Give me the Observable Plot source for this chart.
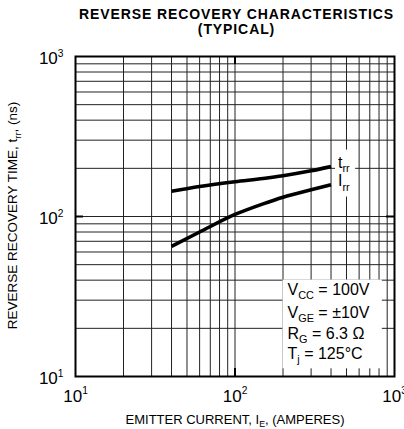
<!DOCTYPE html>
<html><head><meta charset="utf-8">
<script src="https://cdn.jsdelivr.net/npm/d3@7"></script>
<script src="https://cdn.jsdelivr.net/npm/@observablehq/plot@0.6"></script>
<style>body{margin:0;background:#fff} .title text{letter-spacing:0.9px}</style>
</head><body><div id="chart"></div>
<script>
// ---- data ----
const current = [40, 60, 100, 150, 200, 300, 400];          // I_E (A)
const trr = [144, 154, 165, 173, 180, 193, 205];             // t_rr (ns)
const irr = [65, 80, 103, 120, 132, 147, 158];               // I_rr curve
const seriesKeys = ["trr", "irr"];
const seriesLabels = ["t_{rr}", "I_{rr}"];
const xTicks = [10, 100, 1000];
const yTicks = [10, 100, 1000];
const minorSteps = [1, 2, 3, 4, 5, 6, 7, 8, 9];
const decades = [10, 100];
const conditions = ["V_{CC} = 100V", "V_{GE} = ±10V", "R_{G} = 6.3 Ω", "T_{j} = 125°C"];
const titleLines = ["REVERSE RECOVERY CHARACTERISTICS", "(TYPICAL)"];
const xLabel = "EMITTER CURRENT, I_{E}, (AMPERES)";
const yLabel = "REVERSE RECOVERY TIME, t_{rr}, (ns)";

// ---- build table ----
const seriesValues = {trr, irr};
const rows = seriesKeys.flatMap((k, j) => current.map((c, i) => ({series: k, label: seriesLabels[j], x: c, y: seriesValues[k][i]})));
const grid = decades.flatMap(d => minorSteps.map(s => d * s)).filter(v => v > 10 && v < 1000);
const fmt = d => `10^{${Math.round(Math.log10(d))}}`;

const condDy = [-82, -59, -38, -18];

const plot = Plot.plot({
  width: 404, height: 429,
  marginLeft: 75, marginRight: 10, marginTop: 56, marginBottom: 53,
  style: {fontFamily: "'Liberation Sans', Arial, sans-serif", fontSize: "12px", background: "#fff", color: "#000"},
  x: {type: "log", domain: [10, 1000]},
  y: {type: "log", domain: [10, 1000]},
  marks: [
    Plot.ruleX(grid, {stroke: "#222", strokeWidth: 1}),
    Plot.ruleY(grid, {stroke: "#222", strokeWidth: 1}),
    // short heavy ticks at the 10^2 decade inside the frame
    Plot.ruleX([100], {stroke: "#000", strokeWidth: 2, insetBottom: 312}),
    Plot.ruleX([100], {stroke: "#000", strokeWidth: 2, insetTop: 312}),
    Plot.ruleY([100], {stroke: "#000", strokeWidth: 2, insetRight: 311}),
    Plot.ruleY([100], {stroke: "#000", strokeWidth: 2, insetLeft: 311}),
    Plot.frame({stroke: "#000", strokeWidth: 2}),
    Plot.line(rows, {x: "x", y: "y", z: "series", stroke: "#000", strokeWidth: 3.6, curve: "monotone-x", strokeLinecap: "butt"}),
    Plot.text(rows, Plot.selectLast({x: "x", y: "y", z: "series", text: "label", textAnchor: "start", lineAnchor: "bottom", dx: 7, dy: 1, fontSize: 16, fill: "#000", className: "boxb"})),
    ...conditions.map((c, i) => Plot.text([c], {frameAnchor: "bottom-right", text: d => d, textAnchor: "start", lineAnchor: "bottom", dx: -107, dy: condDy[i], fontSize: 16, fill: "#000", className: "boxa"})),
    Plot.axisX({ticks: xTicks, tickFormat: fmt, tickSize: 0, tickPadding: 13, fontSize: 17, label: null}),
    Plot.axisY({ticks: yTicks, tickFormat: fmt, tickSize: 0, tickPadding: 12, fontSize: 17, label: null, dy: 2}),
    Plot.text([xLabel], {frameAnchor: "bottom", text: d => d, textAnchor: "middle", lineAnchor: "bottom", dy: 47, fontSize: 13, fill: "#000"}),
    Plot.text([yLabel], {frameAnchor: "left", text: d => d, rotate: -90, textAnchor: "middle", lineAnchor: "bottom", dx: -58.5, dy: -1, fontSize: 13.5, fill: "#000"}),
    Plot.text([titleLines[0]], {frameAnchor: "top", text: d => d, textAnchor: "middle", lineAnchor: "bottom", dx: 1.5, dy: -38, fontSize: 14, fontWeight: "bold", fill: "#000", className: "title"}),
    Plot.text([titleLines[1]], {frameAnchor: "top", text: d => d, textAnchor: "middle", lineAnchor: "bottom", dx: 1.5, dy: -23, fontSize: 14, fontWeight: "bold", fill: "#000", className: "title"})
  ]
});
document.getElementById("chart").appendChild(plot);

// ---- sub/superscript markup -> tspans ----
const NS = "http://www.w3.org/2000/svg";
plot.querySelectorAll("text").forEach(t => {
  const s = t.textContent;
  if (!/[_^]\{/.test(s)) return;
  const fs = parseFloat(getComputedStyle(t).fontSize);
  while (t.firstChild) t.removeChild(t.firstChild);
  let off = 0;
  for (const p of s.split(/([_^]\{[^}]*\})/).filter(p => p)) {
    const m = p.match(/^([_^])\{([^}]*)\}$/);
    const ts = document.createElementNS(NS, "tspan");
    let target = 0;
    if (m) {
      const sup = m[1] === "^";
      target = sup ? -0.42 * fs : 0.3 * fs;
      ts.setAttribute("font-size", ((sup ? 0.6 : 0.68) * fs) + "px");
      ts.textContent = m[2];
    } else ts.textContent = p;
    if (target !== off) { ts.setAttribute("dy", target - off); off = target; }
    t.appendChild(ts);
  }
});

// ---- white boxes behind annotation groups ----
function boxBehind(cls, pad) {
  const gs = [...plot.querySelectorAll("." + cls)];
  if (!gs.length) return;
  const sr = plot.getBoundingClientRect();
  let x0 = Infinity, y0 = Infinity, x1 = -Infinity, y1 = -Infinity;
  gs.forEach(g => g.querySelectorAll("text").forEach(t => {
    const r = t.getBoundingClientRect();
    x0 = Math.min(x0, r.left - sr.left); y0 = Math.min(y0, r.top - sr.top);
    x1 = Math.max(x1, r.right - sr.left); y1 = Math.max(y1, r.bottom - sr.top);
  }));
  const rect = document.createElementNS(NS, "rect");
  rect.setAttribute("x", x0 - pad[3]); rect.setAttribute("y", y0 - pad[0]);
  rect.setAttribute("width", x1 - x0 + pad[1] + pad[3]); rect.setAttribute("height", y1 - y0 + pad[0] + pad[2]);
  rect.setAttribute("fill", "#fff");
  gs[0].parentNode.insertBefore(rect, gs[0]);
}
boxBehind("boxa", [1, 12, 3, 5]);
boxBehind("boxb", [4, 5, 4, 3]);
</script>
</body></html>
